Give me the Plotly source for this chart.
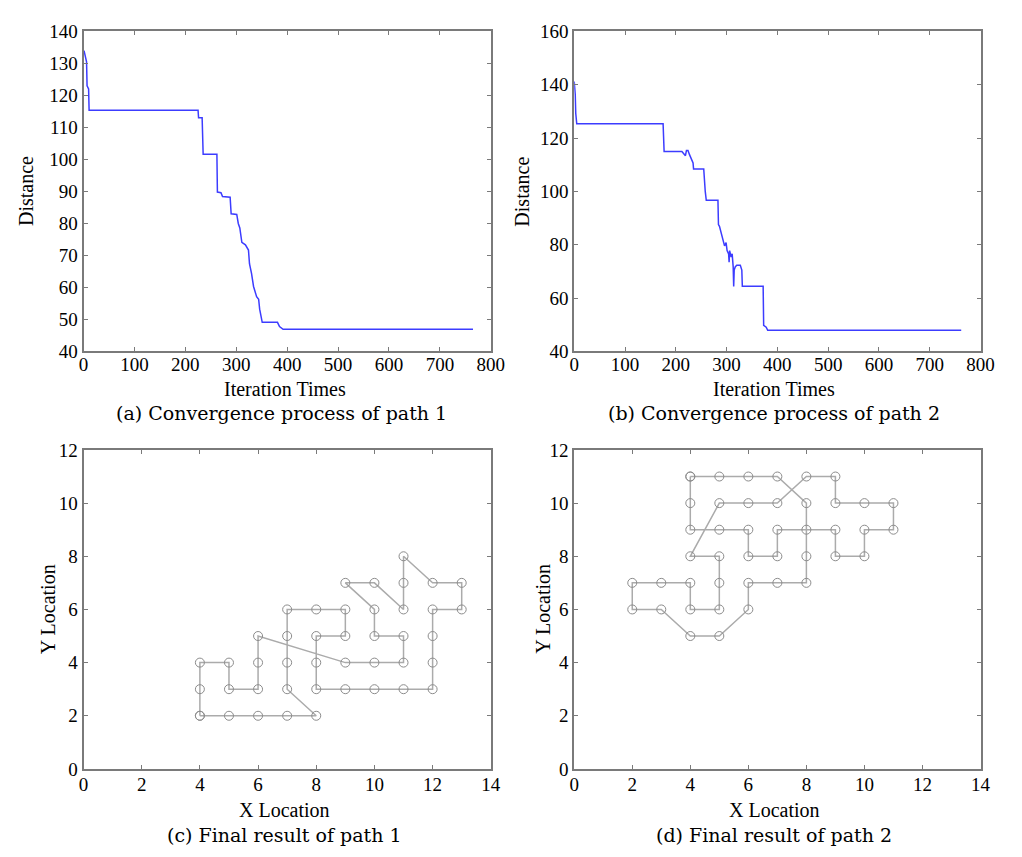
import plotly.graph_objects as go

# ---------------- data ----------------
# (a) convergence of path 1
iter_a = [1, 4, 6, 7, 10, 11, 225, 226, 233, 235, 262, 263, 270, 273, 288, 290, 301, 304, 307, 311,
          318, 324, 326, 330, 334, 340, 344, 346, 351, 381, 385, 392, 765]
dist_a = [134, 131, 130.5, 123, 122, 115.4, 115.4, 113, 113, 101.6, 101.6, 89.8, 89.6, 88.4, 88.2, 83,
          82.8, 80, 78.6, 74.1, 73.3, 71.7, 67.4, 64.4, 60.3, 57.1, 56.3, 53.2, 49.1, 49.1, 47.8, 46.9, 46.9]

# (b) convergence of path 2
iter_b = [0, 1, 2, 3, 5, 175, 176, 177, 212, 215, 219, 221, 224, 227, 230, 234, 235, 255, 258, 260,
          283, 284, 286, 290, 293, 296, 299, 301, 304, 305, 306, 309, 311, 313, 314, 315, 317, 320,
          327, 330, 331, 372, 373, 378, 381, 762]
dist_b = [141.2, 139.4, 136.3, 129.3, 125.4, 125.4, 119.3, 115, 115, 114.4, 113.4, 115.4, 115.4, 113.8,
          112.2, 110.7, 108.4, 108.4, 100, 96.7, 96.7, 87.6, 86.9, 83.9, 82.7, 79.6, 80.8, 77.8, 76.6,
          73.5, 77.8, 75.4, 76.6, 71.7, 64.4, 70.5, 71.7, 72.3, 72.3, 70.5, 64.4, 64.4, 49.8, 49.1,
          47.9, 47.9]

# (c) final path 1 (closed tour)
path1_x = [4, 5, 6, 7, 8, 7, 7, 7, 7, 8, 9, 9, 8, 8, 8, 9, 10, 11, 12, 12, 12, 12, 13, 13, 12, 11,
           11, 11, 10, 9, 10, 10, 11, 11, 10, 9, 6, 6, 6, 5, 5, 4, 4, 4]
path1_y = [2, 2, 2, 2, 2, 3, 4, 5, 6, 6, 6, 5, 5, 4, 3, 3, 3, 3, 3, 4, 5, 6, 6, 7, 7, 8,
           7, 6, 7, 7, 6, 5, 5, 4, 4, 4, 5, 4, 3, 3, 4, 4, 3, 2]

# (d) final path 2 (closed tour)
path2_x = [4, 5, 6, 7, 8, 8, 8, 7, 6, 6, 5, 4, 3, 2, 2, 3, 4, 4, 5, 5, 5, 4, 5, 6, 7, 8, 9, 9,
           10, 11, 11, 10, 10, 9, 9, 8, 7, 7, 6, 6, 5, 4, 4, 4]
path2_y = [11, 11, 11, 11, 10, 8, 7, 7, 7, 6, 5, 5, 6, 6, 7, 7, 7, 6, 6, 7, 8, 8, 10, 10, 10, 11, 11, 10,
           10, 10, 9, 9, 8, 8, 9, 9, 9, 8, 8, 9, 9, 9, 10, 11]

captions = ["(a) Convergence process of path 1", "(b) Convergence process of path 2",
            "(c) Final result of path 1", "(d) Final result of path 2"]

# ---------------- layout geometry ----------------
W, H = 1022, 857
def px(x):
    return x / W
def py(y):
    return 1 - y / H

left_dom = [px(80), px(495)]
right_dom = [px(580), px(994)]
top_dom = [py(350), py(22)]
bot_dom = [py(778), py(451)]

FONT = "Liberation Serif"
CAPFONT = "DejaVu Serif"
AX = "#7a7a7a"

fig = go.Figure()
blue = "#3c3cff"
fig.add_trace(go.Scatter(x=iter_a, y=dist_a, mode="lines", line=dict(color=blue, width=1.5),
                         xaxis="x", yaxis="y", showlegend=False))
fig.add_trace(go.Scatter(x=iter_b, y=dist_b, mode="lines", line=dict(color=blue, width=1.5),
                         xaxis="x2", yaxis="y2", showlegend=False))
path_style = dict(mode="lines+markers", line=dict(color="#ababab", width=1.5),
                  marker=dict(symbol="circle-open", size=9, color="#8c8c8c", line=dict(width=1)),
                  showlegend=False)
fig.add_trace(go.Scatter(x=path1_x, y=path1_y, xaxis="x3", yaxis="y3", **path_style))
fig.add_trace(go.Scatter(x=path2_x, y=path2_y, xaxis="x4", yaxis="y4", **path_style))

def axis(domain, rng, dtick, anchor, standoff=0):
    return dict(domain=domain, range=rng, dtick=dtick, tick0=0, anchor=anchor,
                showline=True, linecolor=AX, linewidth=2, mirror="ticks",
                ticks="inside", ticklen=4, tickcolor=AX, tickwidth=1,
                showgrid=False, zeroline=False, ticklabelstandoff=standoff,
                tickfont=dict(family=FONT, size=19, color="black"))

fig.update_layout(
    width=W, height=H, margin=dict(l=0, r=0, t=0, b=0),
    paper_bgcolor="white", plot_bgcolor="white",
    xaxis=axis(left_dom, [0, 800], 100, "y", -5),
    yaxis=axis(top_dom, [40, 140], 10, "x"),
    xaxis2=axis(right_dom, [0, 800], 100, "y2", -5),
    yaxis2=axis(top_dom, [40, 160], 20, "x2"),
    xaxis3=axis(left_dom, [0, 14], 2, "y3", -3),
    yaxis3=axis(bot_dom, [0, 12], 2, "x3"),
    xaxis4=axis(right_dom, [0, 14], 2, "y4", -3),
    yaxis4=axis(bot_dom, [0, 12], 2, "x4"),
)

ann = []
def text(x, y, s, size=20, angle=0, family=FONT):
    ann.append(dict(x=px(x), y=py(y), xref="paper", yref="paper", text=s, showarrow=False,
                    textangle=angle, xanchor="center", yanchor="middle",
                    font=dict(family=family, size=size, color="black")))

text(285, 389, "Iteration Times")
text(784, 389, "Iteration Times")
text(22, 186, "Distance", angle=-90)
text(527, 186, "Distance", angle=-90)
text(285, 820, "X Location")
text(784, 820, "X Location")
text(44, 614, "Y Location", angle=-90)
text(548, 614, "Y Location", angle=-90)
text(282, 413, captions[0], size=19, family=CAPFONT)
text(784, 413, captions[1], size=19, family=CAPFONT)
text(285, 846, captions[2], size=19, family=CAPFONT)
text(784, 846, captions[3], size=19, family=CAPFONT)
fig.update_layout(annotations=ann)

fig.write_html("out.html", config={"displayModeBar": False},
               post_script="document.body.style.margin='0px';")
